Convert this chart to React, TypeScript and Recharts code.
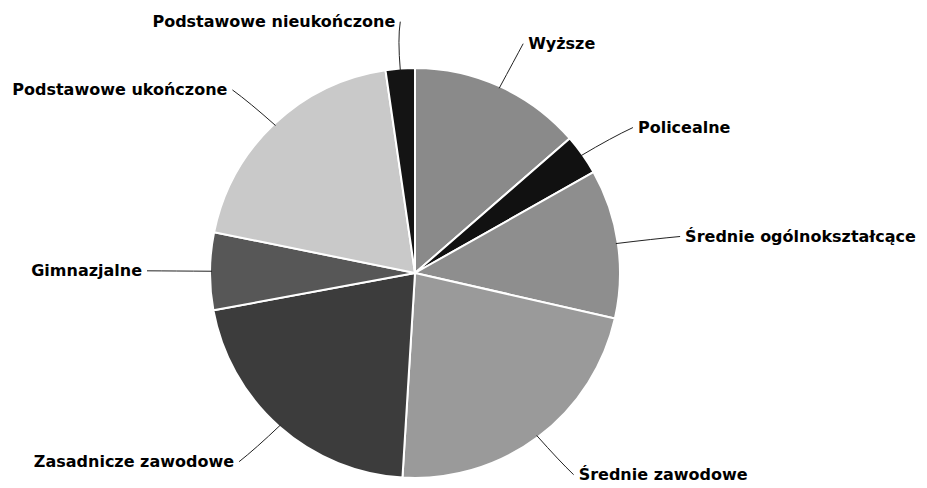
import { PieChart, Pie, Cell } from "recharts";

const categories = [
  "Wyższe",
  "Policealne",
  "Średnie ogólnokształcące",
  "Średnie zawodowe",
  "Zasadnicze zawodowe",
  "Gimnazjalne",
  "Podstawowe ukończone",
  "Podstawowe nieukończone",
];
const shares = [13.6, 3.2, 11.75, 22.4, 21.1, 6.1, 19.5, 2.3];
const fills = ["#8a8a8a", "#111111", "#8e8e8e", "#9a9a9a", "#3c3c3c", "#575757", "#c9c9c9", "#141414"];

const data = categories.map((name, i) => ({ name, value: shares[i] }));

const RAD = Math.PI / 180;

function renderLabel(props: any) {
  const { cx, cy, midAngle, outerRadius, index } = props;
  const cos = Math.cos(-midAngle * RAD);
  const sin = Math.sin(-midAngle * RAD);
  const sx = cx + (outerRadius - 2) * cos;
  const sy = cy + (outerRadius - 2) * sin;
  const mx = cx + (outerRadius + 36) * cos;
  const my = cy + (outerRadius + 30) * sin;
  const tx = cx + (outerRadius + 68) * cos;
  const ty = cy + (outerRadius + 47) * sin;
  const right = cos >= 0;
  const ex = tx + (right ? -5 : 5);
  return (
    <g>
      <path d={`M${sx},${sy}Q${mx},${my} ${ex},${ty}`} fill="none" stroke="#222" strokeWidth={1} />
      <text
        x={tx}
        y={ty}
        textAnchor={right ? "start" : "end"}
        dominantBaseline="central"
        fontFamily="'DejaVu Sans', sans-serif"
        fontWeight="bold"
        fontSize={16}
        fill="#000"
      >
        {categories[index]}
      </text>
    </g>
  );
}

export default function App() {
  return (
    <div style={{ margin: -8, background: "#fff" }}>
      <PieChart width={927} height={488} margin={{ top: 0, right: 0, bottom: 0, left: 0 }}>
        <Pie
          data={data}
          dataKey="value"
          nameKey="name"
          cx={415}
          cy={273}
          outerRadius={205}
          startAngle={90}
          endAngle={-270}
          stroke="#fff"
          strokeWidth={2}
          label={renderLabel}
          labelLine={false}
          isAnimationActive={false}
        >
          {data.map((d, i) => (
            <Cell key={d.name} fill={fills[i]} />
          ))}
        </Pie>
      </PieChart>
    </div>
  );
}
